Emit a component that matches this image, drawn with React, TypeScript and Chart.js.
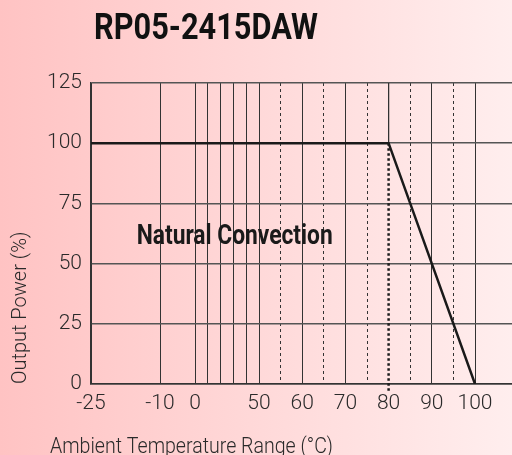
import { useEffect, useRef } from 'react';
import { Chart, registerables } from 'chart.js';

Chart.register(...registerables);

// ---- texts ----
const chartTitle = 'RP05-2415DAW';
const annotationText = 'Natural Convection';
const xAxisTitle = 'Ambient Temperature Range (°C)';
const yAxisTitle = 'Output Power (%)';

// ---- derating curve (temperature °C, output power %) ----
const curveTemps = [-25, 80, 100];
const curvePower = [100, 100, 0];

// dotted marker at the derating knee (runs slightly below the axis)
const markerTemps = [80, 80];
const markerPower = [100, -3.5];

// thin solid part of the 80 °C grid line above the curve
const kneeGridTemps = [80, 80];
const kneeGridPower = [125, 100];

// annotation anchor (°C, %)
const annotationTemp = 31;
const annotationPower = 58;

// ---- x axis grid / ticks ----
const gridTemps = [-25, -10, 0, 10, 20, 30, 40, 50, 55, 60, 65, 70, 75, 80, 85, 90, 95, 100];
const labeledTemps = [-25, -10, 0, 50, 60, 70, 80, 90, 100];
const dashedTemps = [55, 65, 75, 85, 95];
const hiddenGridTemps = [80];

// ---- y axis ticks ----
const yTicks = [0, 25, 50, 75, 100, 125];

// non-linear temperature axis: breakpoints (°C) and their axis units
const breakTemps = [-25, -10, 0, 50, 100];
const breakUnits = [0, 69, 104, 168, 384];
const axisMaxUnits = 421;

function toUnits(t: number): number {
  const n = breakTemps.length;
  let i = 0;
  while (i < n - 2 && t > breakTemps[i + 1]) i++;
  const t0 = breakTemps[i], t1 = breakTemps[i + 1];
  const u0 = breakUnits[i], u1 = breakUnits[i + 1];
  return u0 + ((t - t0) * (u1 - u0)) / (t1 - t0);
}

const FONT = 'Roboto, "DejaVu Sans Condensed", sans-serif';

// draw text squeezed horizontally to a given width (condensed look)
function fitText(ctx: any, text: string, x: number, y: number, width: number, align: 'left' | 'center') {
  const w = ctx.measureText(text).width;
  const sx = Math.min(1, width / w);
  ctx.save();
  const left = align === 'center' ? x - width / 2 : x;
  ctx.translate(left, y);
  ctx.scale(sx, 1);
  ctx.textAlign = 'left';
  ctx.fillText(text, 0, 0);
  ctx.restore();
}

const textPlugin = {
  id: 'customTexts',
  afterDraw(chart: any) {
    const { ctx, chartArea, scales } = chart;
    ctx.save();
    ctx.textBaseline = 'alphabetic';
    // main title
    ctx.font = `bold 36px ${FONT}`;
    ctx.fillStyle = '#111';
    fitText(ctx, chartTitle, chartArea.left + 3, 39, 224, 'left');
    // annotation
    ctx.font = `bold 27px ${FONT}`;
    ctx.fillStyle = '#1a1a1a';
    fitText(
      ctx,
      annotationText,
      scales.x.getPixelForValue(toUnits(annotationTemp)),
      scales.y.getPixelForValue(annotationPower),
      196,
      'center'
    );
    // x axis title
    ctx.font = `300 22px ${FONT}`;
    ctx.fillStyle = '#2a2a2a';
    fitText(ctx, xAxisTitle, chartArea.left - 41, chartArea.bottom + 69, 283, 'left');
    ctx.restore();
  },
};

export default function App() {
  const canvasRef = useRef<HTMLCanvasElement | null>(null);

  useEffect(() => {
    if (!canvasRef.current) return;
    const chart = new Chart(canvasRef.current, {
      type: 'line',
      data: {
        datasets: [
          {
            label: 'Derating',
            data: curveTemps.map((t, i) => ({ x: toUnits(t), y: curvePower[i] })),
            borderColor: '#1a1a1a',
            borderWidth: 2.5,
            pointRadius: 0,
            tension: 0,
          },
          {
            label: 'Knee',
            data: markerTemps.map((t, i) => ({ x: toUnits(t), y: markerPower[i] })),
            borderColor: '#1a1a1a',
            borderWidth: 2.5,
            borderDash: [2.5, 2.5],
            pointRadius: 0,
            tension: 0,
            clip: false as any,
          },
          {
            label: 'Knee grid',
            data: kneeGridTemps.map((t, i) => ({ x: toUnits(t), y: kneeGridPower[i] })),
            borderColor: '#333',
            borderWidth: 1,
            pointRadius: 0,
            tension: 0,
          },
        ],
      },
      options: {
        animation: false,
        responsive: false,
        events: [],
        layout: { padding: { top: 83, left: 0, right: 0, bottom: 0 } },
        plugins: {
          legend: { display: false },
          tooltip: { enabled: false },
          title: { display: false },
        },
        scales: {
          x: {
            type: 'linear',
            min: 0,
            max: axisMaxUnits,
            afterBuildTicks: (scale: any) => {
              scale.ticks = gridTemps.map((t) => ({ value: toUnits(t) }));
            },
            afterFit: (scale: any) => {
              scale.height = 71;
            },
            ticks: {
              autoSkip: false,
              maxRotation: 0,
              padding: 7,
              color: '#2a2a2a',
              font: { family: FONT, size: 21, weight: '300' },
              callback: (_v: any, i: number) =>
                labeledTemps.includes(gridTemps[i]) ? String(gridTemps[i]) : '',
            },
            grid: {
              color: (ctx: any) =>
                ctx.type === 'tick' && hiddenGridTemps.includes(gridTemps[ctx.index])
                  ? 'rgba(0,0,0,0)'
                  : '#333',
              lineWidth: 1,
              drawTicks: false,
            },
            border: {
              display: true,
              color: '#333',
              width: 1.5,
              dash: (ctx: any) =>
                ctx.type === 'tick' && dashedTemps.includes(gridTemps[ctx.index]) ? [3, 3] : [],
            },
          },
          y: {
            type: 'linear',
            min: 0,
            max: 125,
            afterBuildTicks: (scale: any) => {
              scale.ticks = yTicks.map((v) => ({ value: v }));
            },
            afterFit: (scale: any) => {
              scale.width = 91;
            },
            ticks: {
              padding: 9,
              color: '#2a2a2a',
              font: { family: FONT, size: 21, weight: '300' },
            },
            grid: {
              color: '#555',
              lineWidth: 1.5,
              drawTicks: false,
            },
            border: { display: true, color: '#333', width: 1.5 },
            title: {
              display: true,
              text: yAxisTitle,
              align: 'start',
              color: '#2a2a2a',
              font: { family: FONT, size: 20, weight: '300' },
              padding: { top: 9, bottom: 0 },
            },
          },
        },
      },
      plugins: [textPlugin],
    } as any);
    return () => chart.destroy();
  }, []);

  return (
    <div
      style={{
        position: 'fixed',
        left: 0,
        top: 0,
        width: 512,
        height: 455,
        background: 'linear-gradient(to right, #ffc3c3, #ffeeee)',
      }}
    >
      <canvas ref={canvasRef} width={512} height={455} style={{ display: 'block' }} />
    </div>
  );
}
